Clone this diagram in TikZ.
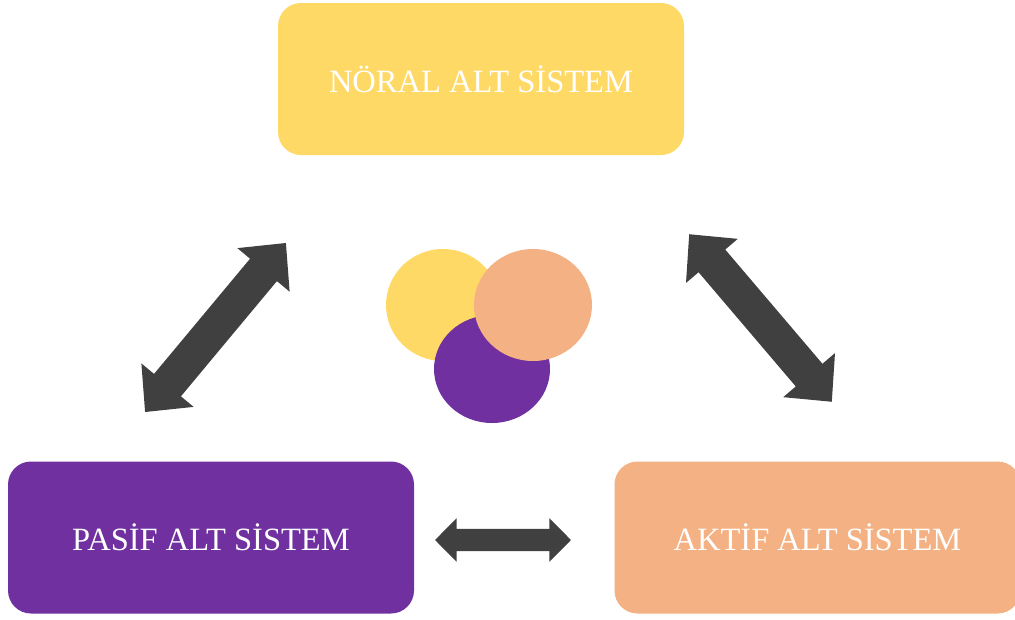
\documentclass[tikz,border=0pt]{standalone}
\usepackage{fontspec}
\setmainfont{Liberation Serif}
\definecolor{cyellow}{HTML}{FFD966}
\definecolor{cpeach}{HTML}{F4B183}
\definecolor{cpurple}{HTML}{7030A0}
\definecolor{cdark}{HTML}{404040}
\tikzset{
  sysbox/.style={rectangle, rounded corners=23pt, minimum width=406pt, minimum height=152pt,
    text=white, font=\fontsize{32.5}{38}\selectfont, inner sep=0pt},
  dblarrow/.pic={
    \fill[cdark] (-110pt,0pt) -- (-75pt,34pt) -- (-75pt,17.5pt) -- (75pt,17.5pt) -- (75pt,34pt)
      -- (110pt,0pt) -- (75pt,-34pt) -- (75pt,-17.5pt) -- (-75pt,-17.5pt) -- (-75pt,-34pt) -- cycle;
  }
}
\begin{document}
\begin{tikzpicture}[x=1pt,y=-1pt]
\useasboundingbox (0,0) rectangle (1015,619);
\node[sysbox, fill=cyellow] (noral) at (481,79) {NÖRAL ALT SİSTEM};
\node[sysbox, fill=cpurple] (pasif) at (211,537.5) {PASİF ALT SİSTEM};
\node[sysbox, fill=cpeach] (aktif) at (817.5,537.5) {AKTİF ALT SİSTEM};
% circles
\fill[cyellow] (443,305) ellipse [x radius=57pt, y radius=56pt];
\fill[cpurple] (492,369) ellipse [x radius=58pt, y radius=54pt];
\fill[cpeach] (533,305) ellipse [x radius=59pt, y radius=56pt];
% arrows
\pic[rotate=50.2] (leftarrow) at (215.5,327.5) {dblarrow};
\pic[rotate=-49.6] (rightarrow) at (760.5,318) {dblarrow};
\pic[xscale=0.618, yscale=0.64] (bottomarrow) at (503,540) {dblarrow};
\end{tikzpicture}
\end{document}
